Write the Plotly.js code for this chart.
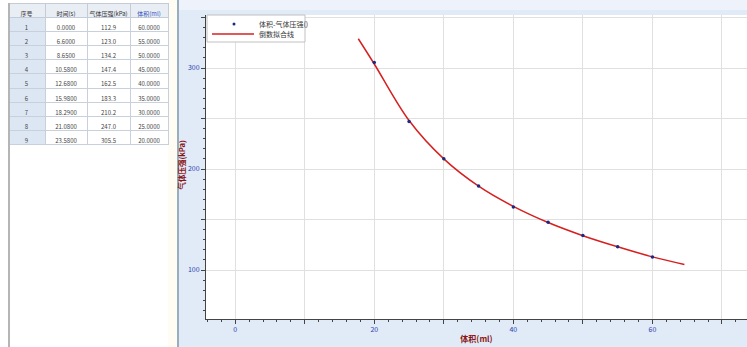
<!DOCTYPE html>
<html><head><meta charset="utf-8">
<script src="https://cdn.plot.ly/plotly-3.0.1.min.js"></script>
<style>html,body{margin:0;padding:0;background:#fff;}#c{width:747px;height:347px;}</style>
</head><body><div id="c"></div>
<script>
const seqNo = [1, 2, 3, 4, 5, 6, 7, 8, 9];
const timeS = [0.0, 6.6, 8.65, 10.58, 12.68, 15.98, 18.29, 21.08, 23.58];
const pressureKPa = [112.9, 123.0, 134.2, 147.4, 162.5, 183.3, 210.2, 247.0, 305.5];
const volumeMl = [60, 55, 50, 45, 40, 35, 30, 25, 20];
const tableHeaders = ['序号', '时间(s)', '气体压强(kPa)', '体积(ml)'];
const fitV = [17.7, 20, 25, 30, 35, 40, 45, 50, 55, 60, 64.6];
const fitP = [329, 304, 248, 210, 183, 163, 147, 134, 123, 113, 105.5];
const xTickVals = [0, 10, 20, 30, 40, 50, 60, 70];
const xTickText = ['0', '', '20', '', '40', '', '60', ''];
const yTickVals = [100, 150, 200, 250, 300, 350];
const yTickText = ['100', '', '200', '', '300', ''];
const seriesNames = ['体积-气体压强()', '倒数拟合线'];
const yTitle = '气体压强(kPa)';
const xTitle = '体积(ml)';

const W = 747, H = 347;
const px = v => v / W, py = v => 1 - v / H;
const FONT = '"Noto Sans CJK SC", "DejaVu Sans", sans-serif';
const PT_COLOR = '#1a2a80', FIT_COLOR = '#d62020', TITLE_COLOR = '#8b1515';

const table = {
  type: 'table',
  domain: {x: [px(8), px(168)], y: [py(160), py(3)]},
  columnwidth: [37, 42, 43, 38],
  header: {
    values: tableHeaders,
    height: 14,
    align: 'center',
    fill: {color: '#e9eef5'},
    line: {color: '#c3ccd8', width: 1},
    font: {family: FONT, size: 6, color: [['#333'], ['#333'], ['#333'], ['#3050c0']]}
  },
  cells: {
    values: [seqNo.map(String), timeS.map(v => v.toFixed(4)), pressureKPa.map(v => v.toFixed(1)), volumeMl.map(v => v.toFixed(4))],
    height: 14.2,
    align: 'center',
    fill: {color: [['#dde7f4'], ['#ffffff'], ['#ffffff'], ['#ffffff']]},
    line: {color: '#c8d0db', width: 1},
    font: {family: FONT, size: 6, color: '#444'}
  }
};

const fit = {
  type: 'scatter', mode: 'lines', x: fitV, y: fitP,
  name: seriesNames[1], showlegend: false,
  line: {color: FIT_COLOR, width: 1.5, shape: 'spline'},
  hoverinfo: 'skip'
};
const pts = {
  type: 'scatter', mode: 'markers', x: volumeMl, y: pressureKPa,
  name: seriesNames[0], showlegend: false,
  marker: {color: PT_COLOR, size: 3.5}
};

const axisCommon = {
  showline: true, linecolor: '#444', linewidth: 1,
  ticks: 'outside', ticklen: 4, tickcolor: '#444', tickwidth: 1,
  showgrid: true, gridcolor: '#e0e0e0', gridwidth: 1, zeroline: false,
  tickfont: {family: FONT, size: 7, color: '#2a3fb0'},
  tickmode: 'array', mirror: false
};

// legend drawn as a compact box (Plotly's own legend rows are too tall for this reference)
const legShapes = [
  {type: 'rect', xref: 'paper', yref: 'paper', x0: px(207), x1: px(305), y0: py(42), y1: py(15), fillcolor: '#ffffff', line: {color: '#c0c0c0', width: 1}},
  {type: 'circle', xref: 'paper', yref: 'paper', x0: px(232.5), x1: px(235.5), y0: py(25.5), y1: py(22.5), fillcolor: PT_COLOR, line: {width: 0}},
  {type: 'line', xref: 'paper', yref: 'paper', x0: px(212), x1: px(254), y0: py(34), y1: py(34), line: {color: FIT_COLOR, width: 1.5}}
];
const legAnn = seriesNames.map((n, i) => ({
  xref: 'paper', yref: 'paper', x: px(257), y: py(24 + i * 10), xanchor: 'left', yanchor: 'middle',
  text: n, showarrow: false, font: {family: FONT, size: 7, color: '#333'}
}));

const layout = {
  width: W, height: H,
  margin: {l: 0, r: 0, t: 0, b: 0},
  paper_bgcolor: '#ffffff', plot_bgcolor: '#ffffff',
  font: {family: FONT},
  showlegend: false,
  xaxis: Object.assign({}, axisCommon, {
    domain: [px(206), px(747)], range: [-4.2, 73.6],
    tickvals: xTickVals, ticktext: xTickText,
    minor: {dtick: 2, ticklen: 2, ticks: 'outside', tickcolor: '#444', showgrid: false},
    title: {text: xTitle, font: {family: FONT, size: 8, color: TITLE_COLOR, weight: 'bold'}, standoff: 2}
  }),
  yaxis: Object.assign({}, axisCommon, {
    domain: [py(319), py(15)], range: [51.5, 352.5],
    tickvals: yTickVals, ticktext: yTickText,
    minor: {dtick: 10, ticklen: 2, ticks: 'outside', tickcolor: '#444', showgrid: false}
  }),
  annotations: [
    {xref: 'paper', yref: 'paper', x: px(180.5), y: py(165), xanchor: 'center', yanchor: 'middle', textangle: -90,
     text: yTitle, showarrow: false, font: {family: FONT, size: 7.5, color: TITLE_COLOR, weight: 'bold'}}
  ].concat(legAnn),
  shapes: [
    {type: 'rect', xref: 'paper', yref: 'paper', x0: px(178), x1: 1, y0: 0, y1: 1, fillcolor: '#e1eaf7', line: {width: 0}, layer: 'below'},
    {type: 'rect', xref: 'paper', yref: 'paper', x0: px(178), x1: 1, y0: py(10), y1: 1, fillcolor: '#eef3fb', line: {width: 0}, layer: 'below'},
    {type: 'rect', xref: 'paper', yref: 'paper', x0: px(206), x1: 1, y0: py(319), y1: py(15), fillcolor: '#ffffff', line: {width: 0}, layer: 'below'},
    {type: 'rect', xref: 'paper', yref: 'paper', x0: px(168), x1: px(177), y0: 0, y1: 1, fillcolor: '#fffdf3', line: {width: 0}, layer: 'below'},
    {type: 'line', xref: 'paper', yref: 'paper', x0: px(9), x1: px(9), y0: 0, y1: py(3), line: {color: '#b5b5b5', width: 2}},
    {type: 'line', xref: 'paper', yref: 'paper', x0: px(178), x1: px(178), y0: 0, y1: 1, line: {color: '#98aebf', width: 2}}
  ].concat(legShapes)
};

Plotly.newPlot('c', [table, fit, pts], layout, {displayModeBar: false, staticPlot: true});
</script>
</body></html>
